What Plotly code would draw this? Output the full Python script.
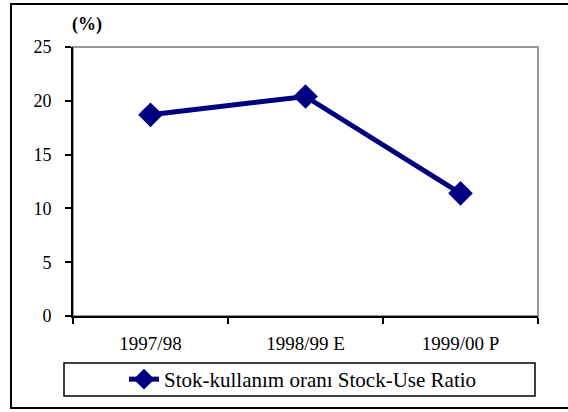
import plotly.graph_objects as go

categories = ["1997/98", "1998/99 E", "1999/00 P"]
stock_use_ratio = [18.7, 20.4, 11.4]
series_name = "Stok-kullanım oranı Stock-Use Ratio"
y_ticks = [0, 5, 10, 15, 20, 25]

W, H = 568, 412
L, R, T, B = 73, 538, 47, 316  # plot area in pixels


def px(x):
    return (x - L) / (R - L)


def py(y):
    return (B - y) / (B - T)


FONT = "Liberation Serif"
NAVY = "#000080"

fig = go.Figure()
fig.add_trace(go.Scatter(
    x=categories, y=stock_use_ratio, name=series_name,
    mode="lines+markers",
    line=dict(color=NAVY, width=5),
    marker=dict(symbol="diamond", size=19, color=NAVY),
    showlegend=True,
))

shapes = [
    # outer chart frame
    dict(type="rect", xref="paper", yref="paper",
         x0=px(11), x1=px(575), y0=py(408), y1=py(4),
         line=dict(color="black", width=2), layer="below"),
    # plot area frame (gray)
    dict(type="rect", xref="paper", yref="paper",
         x0=0, x1=1, y0=0, y1=1,
         line=dict(color="#999999", width=2), layer="below"),
    # legend frame
    dict(type="rect", xref="paper", yref="paper",
         x0=px(64), x1=px(535), y0=py(396), y1=py(363),
         line=dict(color="black", width=1.5), layer="below"),
]

fig.update_layout(
    width=W, height=H,
    margin=dict(l=L, r=W - R, t=T, b=H - B, pad=0),
    paper_bgcolor="white", plot_bgcolor="white",
    font=dict(family=FONT, size=18, color="black"),
    shapes=shapes,
    showlegend=True,
    legend=dict(
        x=px(124), xanchor="left", y=py(379.5), yanchor="middle",
        bgcolor="rgba(0,0,0,0)", borderwidth=0,
        font=dict(family=FONT, size=21, color="black"),
    ),
    annotations=[dict(
        text="<b>(%)</b>", xref="paper", yref="paper",
        x=px(87), y=py(24), xanchor="center", yanchor="middle",
        showarrow=False, font=dict(family=FONT, size=18, color="black"),
    )],
    xaxis=dict(
        type="category", range=[-0.5, 2.5],
        tickson="boundaries", ticks="outside", ticklen=6, tickwidth=2,
        tickcolor="black", showline=True, linecolor="black", linewidth=2,
        showgrid=False, zeroline=False, ticklabelstandoff=9,
        tickfont=dict(family=FONT, size=19, color="black"),
    ),
    yaxis=dict(
        range=[0, 25], tickvals=y_ticks, ticks="outside", ticklen=6,
        tickwidth=2, tickcolor="black", showline=True, linecolor="black",
        linewidth=2, showgrid=False, zeroline=False, ticklabelstandoff=10,
        tickfont=dict(family=FONT, size=18, color="black"),
    ),
)

fig.write_html(
    "out.html",
    config={"displayModeBar": False},
    post_script="document.body.style.margin='0';document.body.style.overflow='hidden';",
)
